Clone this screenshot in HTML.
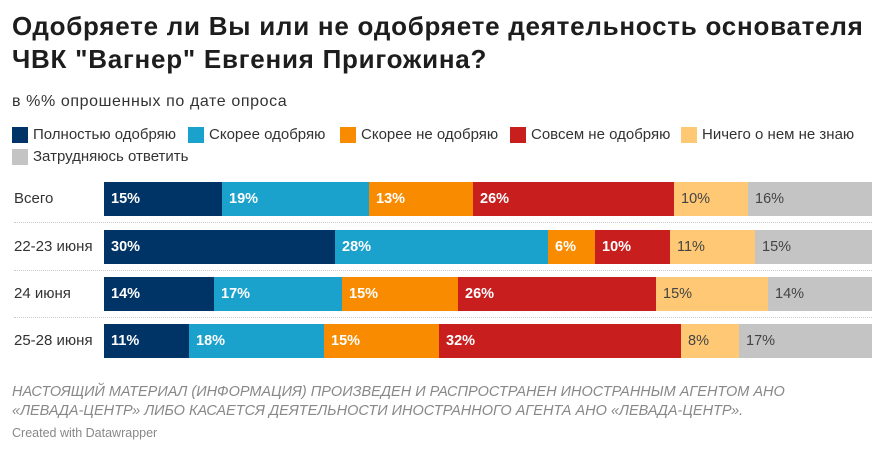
<!DOCTYPE html><html><head><meta charset="utf-8"><style>
body{margin:0;width:883px;height:449px;background:#fff;font-family:"Liberation Sans","DejaVu Sans",sans-serif;position:relative;overflow:hidden;color:#222}
.a{position:absolute;white-space:nowrap}
h1{position:absolute;left:12px;top:10px;margin:0;font-size:26px;letter-spacing:0.75px;line-height:33px;font-weight:bold;color:#1d1d1d;white-space:nowrap}
.lg{position:absolute;font-size:15px;color:#333;display:flex;align-items:center}
.lg i{display:inline-block;width:16px;height:16px;margin-right:5px}
.seg{position:absolute;height:34px;font-size:14.5px;font-weight:bold;color:#fff;line-height:34px;box-sizing:border-box;padding-left:7px}
.lbl{position:absolute;left:14px;font-size:15px;color:#333;line-height:34px}
.sep{position:absolute;left:14px;width:858px;border-top:1px dotted #ccc}
</style></head><body>
<h1>Одобряете ли Вы или не одобряете деятельность основателя<br>ЧВК "Вагнер" Евгения Пригожина?</h1>
<div class="a" style="left:12px;top:93px;font-size:16px;letter-spacing:0.6px;color:#333">в %% опрошенных по дате опроса</div>
<div class="lg" style="left:12px;top:126px"><i style="background:#003366"></i>Полностью одобряю</div>
<div class="lg" style="left:188px;top:126px"><i style="background:#1aa1cc"></i>Скорее одобряю</div>
<div class="lg" style="left:340px;top:126px"><i style="background:#f88b00"></i>Скорее не одобряю</div>
<div class="lg" style="left:510px;top:126px"><i style="background:#c81e1e"></i>Совсем не одобряю</div>
<div class="lg" style="left:681px;top:126px"><i style="background:#fec874"></i>Ничего о нем не знаю</div>
<div class="lg" style="left:12px;top:148px"><i style="background:#c4c4c4"></i>Затрудняюсь ответить</div>
<div id="c"></div>
<div class="a" style="left:12px;top:383px;font-size:14.5px;font-style:italic;color:#888;line-height:19px;white-space:normal;width:840px">НАСТОЯЩИЙ МАТЕРИАЛ (ИНФОРМАЦИЯ) ПРОИЗВЕДЕН И РАСПРОСТРАНЕН ИНОСТРАННЫМ АГЕНТОМ АНО «ЛЕВАДА-ЦЕНТР» ЛИБО КАСАЕТСЯ ДЕЯТЕЛЬНОСТИ ИНОСТРАННОГО АГЕНТА АНО «ЛЕВАДА-ЦЕНТР».</div>
<div class="a" style="left:12px;top:426px;font-size:12.5px;color:#888">Created with Datawrapper</div>
<script>
var cols=["#003366","#1aa1cc","#f88b00","#c81e1e","#fec874","#c4c4c4"];
var rows=[["Всего",182,[104,222,369,473,674,748,872],["15%","19%","13%","26%","10%","16%"]],
["22-23 июня",230,[104,335,548,595,670,755,872],["30%","28%","6%","10%","11%","15%"]],
["24 июня",277,[104,214,342,458,656,768,872],["14%","17%","15%","26%","15%","14%"]],
["25-28 июня",324,[104,189,324,439,681,739,872],["11%","18%","15%","32%","8%","17%"]]];
var h="";
rows.forEach(function(r,k){
h+='<div class="lbl" style="top:'+r[1]+'px">'+r[0]+'</div>';
for(var i=0;i<6;i++){var c=i>=4?"color:#444;font-weight:normal;":"";
h+='<div class="seg" style="'+c+'left:'+r[2][i]+'px;width:'+(r[2][i+1]-r[2][i])+'px;top:'+r[1]+'px;background:'+cols[i]+'">'+r[3][i]+'</div>';}
if(k<3)h+='<div class="sep" style="top:'+(r[1]+40)+'px"></div>';
});
document.getElementById("c").innerHTML=h;
</script>
</body></html>
